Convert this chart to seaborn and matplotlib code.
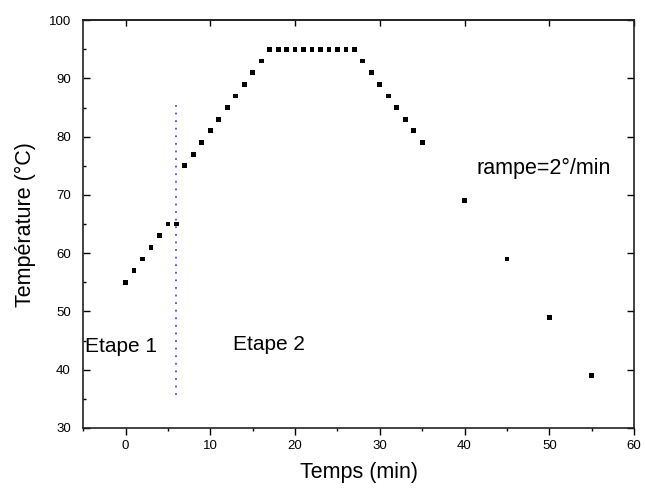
import matplotlib
matplotlib.use("Agg")
import matplotlib.pyplot as plt
from matplotlib.ticker import MultipleLocator, NullLocator
import seaborn as sns
import pandas as pd

# Temperature programme: time (min) and oven temperature (°C)
temps_min = [0, 1, 2, 3, 4, 5, 6,
             7, 8, 9, 10, 11, 12, 13, 14, 15, 16,
             17, 18, 19, 20, 21, 22, 23, 24, 25, 26, 27,
             28, 29, 30, 31, 32, 33, 34, 35,
             40, 45, 50, 55]
temperature_c = [55, 57, 59, 61, 63, 65, 65,
                 75, 77, 79, 81, 83, 85, 87, 89, 91, 93,
                 95, 95, 95, 95, 95, 95, 95, 95, 95, 95, 95,
                 93, 91, 89, 87, 85, 83, 81, 79,
                 69, 59, 49, 39]

# Boundary between the two stages
stage_split = 6
stage_split_range = [35.7, 86.3]

x_ticks = [0, 10, 20, 30, 40, 50, 60]
y_ticks = [30, 40, 50, 60, 70, 80, 90, 100]

sns.set_style("ticks")
plt.rcParams["font.family"] = ["Liberation Sans", "DejaVu Sans"]
plt.rcParams["text.color"] = "black"
plt.rcParams["axes.labelcolor"] = "black"
plt.rcParams["xtick.color"] = "black"
plt.rcParams["ytick.color"] = "black"

df = pd.DataFrame({"Temps": temps_min, "Temperature": temperature_c})

fig = plt.figure(figsize=(6.45, 4.93), dpi=100)
ax = fig.add_axes([0.129, 0.132, 0.854, 0.827])

sns.scatterplot(data=df, x="Temps", y="Temperature", marker="s", s=12,
                color="black", edgecolor="none", linewidth=0, ax=ax, zorder=3)

ax.vlines(stage_split, stage_split_range[0], stage_split_range[1],
          colors="#4a4aff", linestyles=(0, (1, 3.2)), linewidth=1.3, zorder=2)

ax.set_xlim(-5, 60)
ax.set_ylim(30, 100)
ax.set_xticks(x_ticks)
ax.set_yticks(y_ticks)
ax.xaxis.set_minor_locator(MultipleLocator(5))
ax.yaxis.set_minor_locator(MultipleLocator(5))

for side in ["left", "right", "top", "bottom"]:
    ax.spines[side].set_visible(True)
    ax.spines[side].set_linewidth(1.2)
    ax.spines[side].set_color("#222222")

ax.tick_params(axis="x", which="major", direction="out", length=5, width=1,
               bottom=True, top=False, labelsize=9.5, pad=4)
ax.tick_params(axis="x", which="minor", direction="out", length=2.5, width=1,
               bottom=True, top=False)
ax.tick_params(axis="y", which="major", direction="in", length=5, width=1,
               left=True, right=True, labelsize=9.5, pad=9)
ax.tick_params(axis="y", which="minor", direction="in", length=2.5, width=1,
               left=True, right=False)

top = ax.secondary_xaxis("top")
top.set_xticks(x_ticks)
top.tick_params(axis="x", which="major", direction="in", length=4, width=1,
                labeltop=False)
top.xaxis.set_minor_locator(NullLocator())
top.spines["top"].set_linewidth(1.2)
top.spines["top"].set_color("#222222")

ax.set_xlabel("Temps (min)", fontsize=15.5, labelpad=7)
ax.set_ylabel("Température (°C)", fontsize=15.5, labelpad=9)

ax.text(-4.8, 44.0, "Etape 1", fontsize=15, va="center", ha="left")
ax.text(12.7, 44.4, "Etape 2", fontsize=15, va="center", ha="left")
ax.text(41.4, 74.6, "rampe=2°/min", fontsize=15.5, va="center", ha="left")

fig.savefig("out.png", dpi=100)
